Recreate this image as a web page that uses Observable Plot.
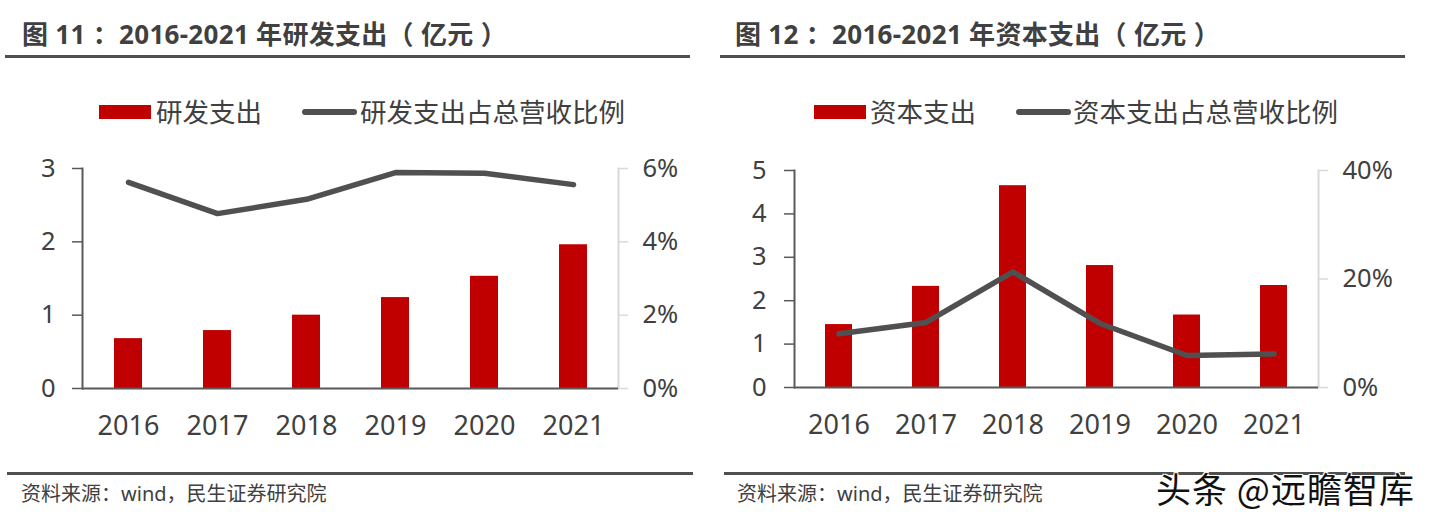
<!DOCTYPE html>
<html><head><meta charset="utf-8">
<script src="https://cdn.jsdelivr.net/npm/d3@7"></script>
<script src="https://cdn.jsdelivr.net/npm/@observablehq/plot@0.6"></script>
<style>
html,body{margin:0;padding:0;background:#fff}
body{width:1435px;height:519px;overflow:hidden;position:relative;font-family:"Noto Sans CJK SC","Noto Sans",sans-serif;color:#404040}
.abs{position:absolute}
.title{font-family:"Noto Sans","Noto Sans CJK SC",sans-serif;font-weight:bold;font-size:26px;letter-spacing:0.3px;white-space:pre;color:#404040;line-height:1}
.rule{height:3px;background:#4f4f4f}
.legtxt{font-size:26.5px;white-space:nowrap;line-height:1;color:#404040}
.swatch{background:#C00000;width:52px;height:14px}
.legline{background:#505050;height:6px;border-radius:3px}
.src{font-family:"Noto Sans","Noto Sans CJK SC",sans-serif;font-size:20px;white-space:nowrap;line-height:1;color:#404040}
.wm{font-size:35px;letter-spacing:1px;white-space:nowrap;line-height:1;color:#111;text-shadow:1px 1px 0 #fff,-1px -1px 0 #fff,1px -1px 0 #fff,-1px 1px 0 #fff,2px 2px 1px #fff}
</style></head>
<body>
<script>
// ---- data ----
const years = ["2016", "2017", "2018", "2019", "2020", "2021"];
const rdSpend = [0.68, 0.79, 1.00, 1.24, 1.53, 1.96];          // 研发支出（亿元）
const rdRatio = [5.62, 4.77, 5.16, 5.89, 5.87, 5.56];          // 研发支出占总营收比例（%）
const capex = [1.45, 2.33, 4.65, 2.81, 1.67, 2.35];            // 资本支出（亿元）
const capexRatio = [9.9, 12.0, 21.3, 11.8, 5.9, 6.2];          // 资本支出占总营收比例（%）
const leftTicks1 = [0, 1, 2, 3];
const rightTicks1 = [0, 2, 4, 6];
const leftTicks2 = [0, 1, 2, 3, 4, 5];
const rightTicks2 = [0, 20, 40];
const title1 = "图 11 ：2016-2021 年研发支出（ 亿元 ）";
const title2 = "图 12 ：2016-2021 年资本支出（ 亿元 ）";
const legend1 = ["研发支出", "研发支出占总营收比例"];
const legend2 = ["资本支出", "资本支出占总营收比例"];
const source = "资料来源：wind，民生证券研究院";
const watermark = "头条 @远瞻智库";

function el(cls, css, text) {
  const d = document.createElement("div");
  d.className = "abs " + cls;
  Object.assign(d.style, css);
  if (text) d.textContent = text;
  document.body.appendChild(d);
  return d;
}

function panel(opts) {
  const {values, ratios, yTicks, pTicks, left, width, mL, mR, mT, mB, lTickPad, rTickPad} = opts;
  const yMax = yTicks[yTicks.length - 1];
  const pMax = pTicks[pTicks.length - 1];
  const k = yMax / pMax;
  const bars = years.map((y, i) => ({year: y, v: values[i]}));
  const line = years.map((y, i) => ({year: y, p: ratios[i] * k}));
  const chart = Plot.plot({
    width, height: 300,
    marginLeft: mL, marginRight: mR, marginTop: mT, marginBottom: mB,
    style: {fontFamily: '"Noto Sans","Noto Sans CJK SC",sans-serif', fontSize: "25.5px", color: "#404040", background: "transparent", overflow: "visible"},
    x: {type: "band", domain: years, paddingInner: 0.69, paddingOuter: 0.345, align: 0.5},
    y: {domain: [0, yMax]},
    marks: [
      Plot.axisY({anchor: "left", ticks: yTicks, tickSize: 10, tickPadding: lTickPad, stroke: "#595959", strokeWidth: 1.5, label: null, tickFormat: d => String(d)}),
      Plot.axisY({anchor: "right", ticks: pTicks.map(p => p * k), tickSize: 9, tickPadding: rTickPad, stroke: "#d9d9d9", strokeWidth: 1.5, label: null, tickFormat: d => Math.round(d / k) + "%"}),
      Plot.frame({anchor: "right", stroke: "#d9d9d9", strokeWidth: 2}),
      Plot.barY(bars, {x: "year", y: "v", fill: "#C00000"}),
      Plot.frame({anchor: "left", stroke: "#595959", strokeWidth: 2}),
      Plot.ruleY([0], {stroke: "#595959", strokeWidth: 2}),
      Plot.line(line, {x: "year", y: "p", stroke: "#505050", strokeWidth: 5.5, strokeLinecap: "round", strokeLinejoin: "round"}),
      Plot.axisX({tickSize: 0, tickPadding: 27, label: null, fontSize: 27})
    ]
  });
  const wrap = el("", {left: left + "px", top: "140px"});
  wrap.appendChild(chart);
}

// ---- left panel ----
el("title", {left: "22px", top: "21px"}, title1);
el("rule", {left: "5px", top: "55px", width: "685px"});
el("swatch", {left: "99px", top: "105px"});
el("legtxt", {left: "156px", top: "98px"}, legend1[0]);
el("legline", {left: "302px", top: "109px", width: "55px"});
el("legtxt", {left: "360px", top: "98px"}, legend1[1]);
panel({values: rdSpend, ratios: rdRatio, yTicks: leftTicks1, pTicks: rightTicks1, left: 0, width: 715, mL: 82, mR: 97, mT: 28, mB: 52, lTickPad: 17, rTickPad: 15});
el("rule", {left: "7px", top: "472px", width: "686px"});
el("src", {left: "21px", top: "484px"}, source);

// ---- right panel ----
el("title", {left: "735px", top: "21px"}, title2);
el("rule", {left: "720px", top: "55px", width: "685px"});
el("swatch", {left: "814px", top: "105px"});
el("legtxt", {left: "870px", top: "98px"}, legend2[0]);
el("legline", {left: "1016px", top: "109px", width: "55px"});
el("legtxt", {left: "1073px", top: "98px"}, legend2[1]);
panel({values: capex, ratios: capexRatio, yTicks: leftTicks2, pTicks: rightTicks2, left: 715, width: 720, mL: 79, mR: 117, mT: 30, mB: 53, lTickPad: 18, rTickPad: 15});
el("rule", {left: "724px", top: "472px", width: "681px"});
el("src", {left: "737px", top: "484px"}, source);
el("wm", {left: "1156px", top: "470px"}, watermark);
</script>
</body></html>
